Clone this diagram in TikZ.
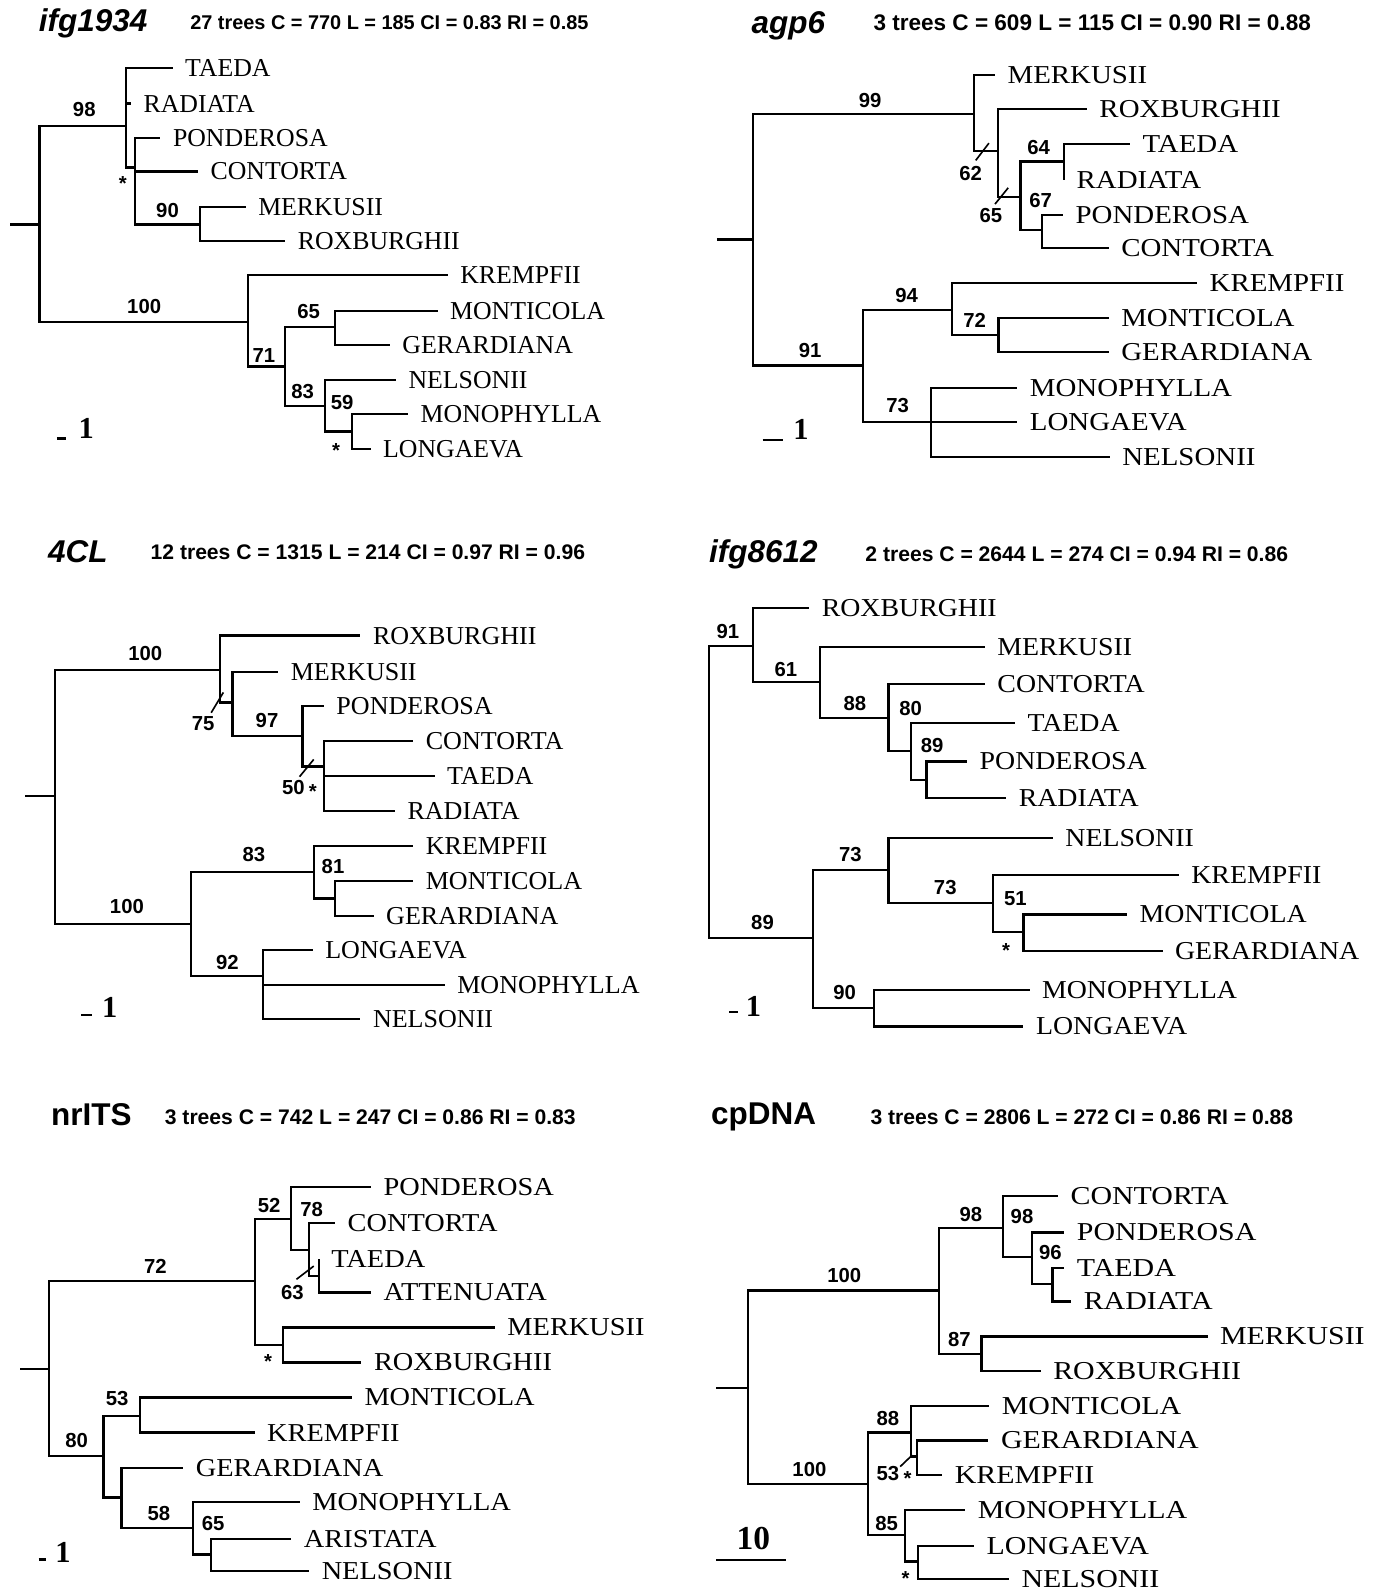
\documentclass[tikz,border=0pt]{standalone}
\usepackage{fontspec}
\setmainfont{Liberation Serif}
\newfontfamily\sansfam{Liberation Sans}
\newfontfamily\serifB[FakeStretch=1.12]{Liberation Serif}
\newfontfamily\serifC[FakeStretch=1.01]{Liberation Serif}
\newfontfamily\serifD[FakeStretch=1.08]{Liberation Serif}
\newfontfamily\serifE[FakeStretch=1.10]{Liberation Serif}
\newfontfamily\serifF[FakeStretch=1.16]{Liberation Serif}
\usepackage{tikz}
\newcommand{\taxonfont}{\rmfamily\fontsize{12.7}{14}\selectfont}
\newcommand{\taxonB}{\serifB\fontsize{12.7}{14}\selectfont}
\newcommand{\taxonC}{\serifC\fontsize{12.7}{14}\selectfont}
\newcommand{\taxonD}{\serifD\fontsize{12.7}{14}\selectfont}
\newcommand{\taxonE}{\serifE\fontsize{12.7}{14}\selectfont}
\newcommand{\taxonF}{\serifF\fontsize{12.7}{14}\selectfont}
\newcommand{\bootfont}{\sansfam\bfseries\fontsize{10}{12}\selectfont}
\newcommand{\statfont}{\sansfam\bfseries\fontsize{10.4}{12}\selectfont}
\newcommand{\titlefont}{\sansfam\bfseries\fontsize{15.5}{18}\selectfont}
\newcommand{\barfont}{\rmfamily\bfseries\fontsize{15}{16}\selectfont}

\begin{document}
\begin{tikzpicture}[
    x=0.5pt, y=-0.5pt,
    branch/.style={line width=1.1pt, line join=miter},
    taxon/.style={anchor=west, font=\taxonfont, inner xsep=6pt, inner ysep=0pt},
    boot/.style={font=\bootfont, inner sep=0pt},
    astx/.style={font=\bootfont, inner sep=0pt},
    genename/.style={anchor=base west, inner sep=0pt, font=\titlefont},
    treestats/.style={anchor=base west, inner sep=0pt, font=\statfont},
    slash/.style={line width=0.8pt},
    scalebar/.style={line width=1.1pt},
    scalelab/.style={font=\barfont, inner sep=0pt}
]
\useasboundingbox (0,0) rectangle (1352,1568);

% ---------- ifg1934 ----------
\node[genename] (aTitle) at (38,31) {\itshape ifg1934};
\node[treestats, font=\sansfam\bfseries\fontsize{9.8}{12}\selectfont] (aStats) at (187,29) {27 trees C = 770 L = 185 CI = 0.83 RI = 0.85};
\coordinate (a0) at (10,221);
\coordinate (aR) at (39,221);
\coordinate (aA) at (124,124);
\coordinate (aB) at (133,165);
\coordinate (aC) at (197,221);
\coordinate (aD) at (244,317);
\coordinate (aE) at (281,361);
\coordinate (aF) at (330,322);
\coordinate (aG) at (320,400);
\coordinate (aH) at (347,425);
\draw[branch] (a0) -- (aR);
\foreach \pa/\ch in {aR/aA, aA/aB, aB/aC, aR/aD, aD/aE, aE/aF, aE/aG, aG/aH}
    \draw[branch] (\pa) |- (\ch);
\foreach \nd/\pa/\x/\y/\lab in {aTae/aA/170/67/TAEDA, aRad/aA/129/102/RADIATA,
    aPon/aB/158/136/PONDEROSA, aCon/aB/195/169/CONTORTA, aMer/aC/242/204/MERKUSII,
    aRox/aC/281/237/ROXBURGHII, aKre/aD/441/271/KREMPFII, aMon/aF/431/306/MONTICOLA,
    aGer/aF/384/340/GERARDIANA, aNel/aG/390/374/NELSONII, aMph/aH/402/408/MONOPHYLLA,
    aLon/aH/365/442/LONGAEVA} {
    \node[taxon] (\nd) at (\x,\y) {\lab};
    \draw[branch] (\pa) |- (\nd.west);
}
\foreach \nd/\x/\y/\v in {a1/83/108/98, a2/165/207/90, a3/142/302/100, a4/260/350/71,
    a5/304/307/65, a6/298/386/83, a7/337/396/59}
    \node[boot] (\nd) at (\x,\y) {\v};
\node[astx] (aS1) at (121,181) {*};
\node[astx] (aS2) at (331,444) {*};
\coordinate (aBar1) at (56,432);
\coordinate (aBar2) at (65,432);
\draw[scalebar] (aBar1) -- (aBar2);
\node[scalelab] (aBarLab) at (85,422) {1};

% ---------- agp6 ----------
\node[genename] (bTitle) at (740,33) {\itshape agp6};
\node[treestats, font=\sansfam\bfseries\fontsize{11.1}{13}\selectfont] (bStats) at (860,30) {3 trees C = 609 L = 115 CI = 0.90 RI = 0.88};
\coordinate (b0) at (706,236);
\coordinate (bR) at (741.5,236);
\coordinate (bA) at (959,112);
\coordinate (bB) at (983,148.5);
\coordinate (bC) at (1005,194);
\coordinate (bD) at (1048,159);
\coordinate (bE) at (1026,226.5);
\coordinate (bF) at (850,360);
\coordinate (bG) at (938,305);
\coordinate (bH) at (983.5,330);
\coordinate (bI) at (917,415.5);
\draw[branch] (b0) -- (bR);
\foreach \pa/\ch in {bR/bA, bA/bB, bB/bC, bC/bD, bC/bE, bR/bF, bF/bG, bG/bH, bF/bI}
    \draw[branch] (\pa) |- (\ch);
\foreach \nd/\pa/\x/\y/\lab in {bMer/bA/980/74/MERKUSII, bRox/bB/1070.5/107.5/ROXBURGHII,
    bTae/bD/1113/142/TAEDA, bRad/bD/1048/177/RADIATA, bPon/bE/1047/212/PONDEROSA,
    bCon/bE/1092/244/CONTORTA, bKre/bG/1179/279/KREMPFII, bMon/bH/1092/313/MONTICOLA,
    bGer/bH/1092/347/GERARDIANA, bMph/bI/1002/382/MONOPHYLLA, bLon/bI/1002/415.5/LONGAEVA,
    bNel/bI/1093/450/NELSONII} {
    \node[taxon, font=\taxonB] (\nd) at (\x,\y) {\lab};
    \draw[branch] (\pa) |- (\nd.west);
}
\foreach \nd/\x/\y/\v in {b1/857/99/99, b2/956/171/62, b3/976/212/65, b4/1023/145/64,
    b5/1025/197/67, b6/893/291/94, b7/960/316/72, b8/798/345/91, b9/884/399/73}
    \node[boot] (\nd) at (\x,\y) {\v};
\draw[slash] ([shift={(5,-13)}]b2.center) -- ++(13,-17);
\draw[slash] ([shift={(4,-11)}]b3.center) -- ++(13,-16);
\coordinate (bBar1) at (751,433);
\coordinate (bBar2) at (771,433);
\draw[scalebar] (bBar1) -- (bBar2);
\node[scalelab] (bBarLab) at (789,423) {1};

% ---------- 4CL ----------
\node[genename] (cTitle) at (47,554) {\itshape 4CL};
\node[treestats] (cStats) at (148,551) {12 trees C = 1315 L = 214 CI = 0.97 RI = 0.96};
\coordinate (c0) at (25,784);
\coordinate (cR) at (54,784);
\coordinate (cA) at (217,660);
\coordinate (cB) at (229,692);
\coordinate (cC) at (298,725);
\coordinate (cD) at (319,755);
\coordinate (cE) at (188,910);
\coordinate (cF) at (309,858.5);
\coordinate (cG) at (330,885);
\coordinate (cH) at (259,961.6);
\draw[branch] (c0) -- (cR);
\foreach \pa/\ch in {cR/cA, cA/cB, cB/cC, cC/cD, cR/cE, cE/cF, cF/cG, cE/cH}
    \draw[branch] (\pa) |- (\ch);
\foreach \nd/\pa/\x/\y/\lab in {cRox/cA/355/626/ROXBURGHII, cMer/cB/274/661.6/MERKUSII,
    cPon/cC/319/695/PONDEROSA, cCon/cD/407/730/CONTORTA, cTae/cD/428/764/TAEDA,
    cRad/cD/389/798.6/RADIATA, cKre/cF/407/833/KREMPFII, cMon/cG/407/868/MONTICOLA,
    cGer/cG/368/902/GERARDIANA, cLon/cH/308/936/LONGAEVA, cMph/cH/438/970/MONOPHYLLA,
    cNel/cH/355/1004/NELSONII} {
    \node[taxon, font=\taxonC] (\nd) at (\x,\y) {\lab};
    \draw[branch] (\pa) |- (\nd.west);
}
\foreach \nd/\x/\y/\v in {c1/143/644/100, c2/200/713/75, c3/263/710/97, c4/289/776/50,
    c5/125/893/100, c6/250/842/83, c7/328/853/81, c8/224/947.5/92}
    \node[boot] (\nd) at (\x,\y) {\v};
\node[astx] (cS1) at (308,780) {*};
\draw[slash] ([shift={(8,-11)}]c2.center) -- ++(12,-20);
\draw[slash] ([shift={(6,-11)}]c4.center) -- ++(14,-17);
\coordinate (cBar1) at (80,1000);
\coordinate (cBar2) at (91,1000);
\draw[scalebar] (cBar1) -- (cBar2);
\node[scalelab] (cBarLab) at (108,992) {1};

% ---------- ifg8612 ----------
\node[genename] (dTitle) at (698,554) {\itshape ifg8612};
\node[treestats] (dStats) at (852,553) {2 trees C = 2644 L = 274 CI = 0.94 RI = 0.86};
\coordinate (dR) at (698,780);
\coordinate (dA) at (742,636);
\coordinate (dB) at (808,672);
\coordinate (dC) at (875,707.4);
\coordinate (dD) at (897.6,740);
\coordinate (dE) at (912.6,768);
\coordinate (dF) at (801,924);
\coordinate (dG) at (875,857);
\coordinate (dH) at (977.7,889);
\coordinate (dI) at (1008,918);
\coordinate (dJ) at (861,993);
\foreach \pa/\ch in {dR/dA, dA/dB, dB/dC, dC/dD, dD/dE, dR/dF, dF/dG, dG/dH, dH/dI, dF/dJ}
    \draw[branch] (\pa) |- (\ch);
\foreach \nd/\pa/\x/\y/\lab in {dRox/dA/797/599/ROXBURGHII, dMer/dB/970/637/MERKUSII,
    dCon/dC/970/674/CONTORTA, dTae/dD/999.6/712/TAEDA, dPon/dE/952.5/750/PONDEROSA,
    dRad/dE/991/786/RADIATA, dNel/dG/1037/825/NELSONII, dKre/dH/1161/862/KREMPFII,
    dMon/dI/1110/900.7/MONTICOLA, dGer/dI/1145/937/GERARDIANA,
    dMph/dJ/1014/975/MONOPHYLLA, dLon/dJ/1008/1011/LONGAEVA} {
    \node[taxon, font=\taxonD] (\nd) at (\x,\y) {\lab};
    \draw[branch] (\pa) |- (\nd.west);
}
\foreach \nd/\x/\y/\v in {d1/717/622/91, d2/774/659/61, d3/842/693/88, d4/897/698/80,
    d5/918/734/89, d6/751/909/89, d7/837.6/841.5/73, d8/931/874/73, d9/1000/885/51,
    d10/832/978/90}
    \node[boot] (\nd) at (\x,\y) {\v};
\node[astx] (dS1) at (991,936) {*};
\coordinate (dBar1) at (718,997);
\coordinate (dBar2) at (727,997);
\draw[scalebar] (dBar1) -- (dBar2);
\node[scalelab] (dBarLab) at (742,991) {1};

% ---------- nrITS ----------
\node[genename] (eTitle) at (50,1109) {nrITS};
\node[treestats] (eStats) at (162,1108) {3 trees C = 742 L = 247 CI = 0.86 RI = 0.83};
\coordinate (e0) at (20,1348.6);
\coordinate (eR) at (48,1348.6);
\coordinate (eA) at (251,1262);
\coordinate (eB) at (286.5,1200.7);
\coordinate (eC) at (304,1231);
\coordinate (eD) at (314,1256.5);
\coordinate (eE) at (278.5,1325);
\coordinate (eF) at (102,1434);
\coordinate (eG) at (138,1394.6);
\coordinate (eH) at (119.6,1475);
\coordinate (eI) at (190,1504.7);
\coordinate (eJ) at (208,1531);
\draw[branch] (e0) -- (eR);
\foreach \pa/\ch in {eR/eA, eA/eB, eB/eC, eC/eD, eA/eE, eR/eF, eF/eG, eF/eH, eH/eI, eI/eJ}
    \draw[branch] (\pa) |- (\ch);
\foreach \nd/\pa/\x/\y/\lab in {ePon/eB/365.5/1169.4/PONDEROSA, eCon/eC/330/1204.6/CONTORTA,
    eTae/eD/314/1240/TAEDA, eAtt/eD/365.5/1273/ATTENUATA, eMer/eE/487.4/1307.5/MERKUSII,
    eRox/eE/356/1342/ROXBURGHII, eMon/eG/346.6/1376.5/MONTICOLA, eKre/eG/250.7/1411/KREMPFII,
    eGer/eH/180.5/1445.5/GERARDIANA, eMph/eI/295.3/1479.4/MONOPHYLLA,
    eAri/eJ/287/1515.6/ARISTATA, eNel/eJ/304.5/1547.5/NELSONII} {
    \node[taxon, font=\taxonE] (\nd) at (\x,\y) {\lab};
    \draw[branch] (\pa) |- (\nd.west);
}
\foreach \nd/\x/\y/\v in {e1/153/1247/72, e2/265/1187/52, e3/307/1191/78, e4/288/1273/63,
    e5/75.5/1419/80, e6/115.4/1377.5/53, e7/156.6/1490.6/58, e8/210/1500.4/65}
    \node[boot] (\nd) at (\x,\y) {\v};
\node[astx] (eS1) at (264,1341) {*};
\draw[slash] ([shift={(4,-13)}]e4.center) -- ++(17,-13);
\coordinate (eBar1) at (38,1536);
\coordinate (eBar2) at (45,1536);
\draw[scalebar] (eBar1) -- (eBar2);
\node[scalelab] (eBarLab) at (62,1529) {1};

% ---------- cpDNA ----------
\node[genename] (fTitle) at (700,1108) {cpDNA};
\node[treestats] (fStats) at (857,1108) {3 trees C = 2806 L = 272 CI = 0.86 RI = 0.88};
\coordinate (f0) at (705.6,1367.3);
\coordinate (fR) at (737,1367.3);
\coordinate (fA) at (925,1271);
\coordinate (fB) at (988,1209.5);
\coordinate (fC) at (1016.5,1238);
\coordinate (fD) at (1036.7,1264.4);
\coordinate (fE) at (966.6,1333.4);
\coordinate (fF) at (854.8,1461.6);
\coordinate (fG) at (897,1411);
\coordinate (fH) at (903.4,1434.6);
\coordinate (fI) at (891.4,1512);
\coordinate (fJ) at (904.3,1538);
\draw[branch] (f0) -- (fR);
\foreach \pa/\ch in {fR/fA, fA/fB, fB/fC, fC/fD, fA/fE, fR/fF, fF/fG, fG/fH, fF/fI, fI/fJ}
    \draw[branch] (\pa) |- (\ch);
\foreach \nd/\pa/\x/\y/\lab in {fCon/fB/1042/1178.3/CONTORTA, fPon/fC/1048.3/1213.8/PONDEROSA,
    fTae/fD/1048.3/1249/TAEDA, fRad/fD/1055/1281.8/RADIATA, fMer/fE/1189.3/1316.3/MERKUSII,
    fRox/fE/1025/1350.2/ROXBURGHII, fMon/fG/974.3/1384.7/MONTICOLA,
    fGer/fH/973.5/1418.8/GERARDIANA, fKre/fH/928/1452.7/KREMPFII,
    fMph/fI/950.7/1487.2/MONOPHYLLA, fLon/fJ/959.3/1522.7/LONGAEVA,
    fNel/fJ/993.7/1555.5/NELSONII} {
    \node[taxon, font=\taxonF] (\nd) at (\x,\y) {\lab};
    \draw[branch] (\pa) |- (\nd.west);
}
\foreach \nd/\x/\y/\v in {f1/831.6/1256.5/100, f2/956.3/1196.4/98, f3/1006.6/1198/98,
    f4/1034.5/1233.5/96, f5/945/1319/87, f6/797.2/1447/100, f7/874.6/1396.8/88,
    f8/874.6/1451/53, f9/873.3/1500.3/85}
    \node[boot] (\nd) at (\x,\y) {\v};
\node[astx] (fS1) at (894,1456) {*};
\node[astx] (fS2) at (892,1555) {*};
\draw[slash] ([shift={(12,-6.5)}]f8.center) -- ++(12,-11.5);
\coordinate (fBar1) at (705.6,1536.5);
\coordinate (fBar2) at (774.4,1536.5);
\draw[scalebar] (fBar1) -- (fBar2);
\node[scalelab, font=\rmfamily\bfseries\fontsize{16.5}{18}\selectfont] (fBarLab) at (742,1515) {10};
\end{tikzpicture}
\end{document}
